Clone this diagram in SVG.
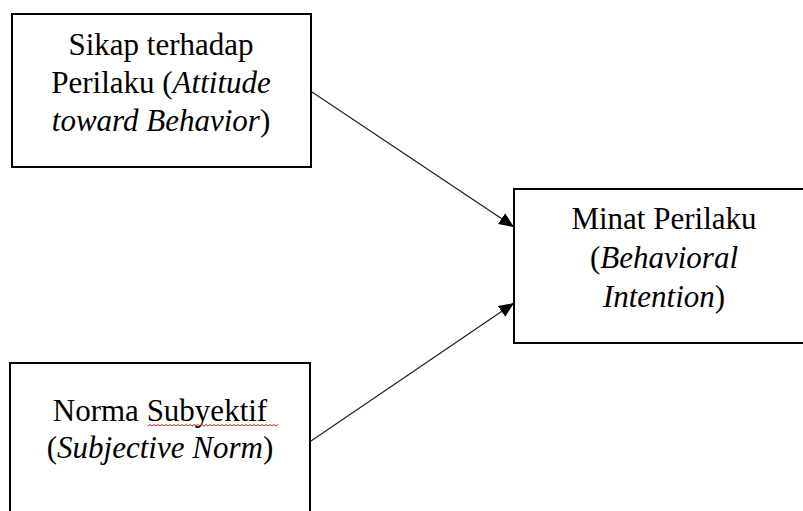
<svg xmlns="http://www.w3.org/2000/svg" width="803" height="511" viewBox="0 0 803 511">
  <style>
    .box { fill: #ffffff; stroke: #000000; stroke-width: 2; }
    .label { font-size: 31px; fill: #000000; text-anchor: middle; }
    .it { font-style: italic; }
    .edge { stroke: #222222; stroke-width: 1.2; fill: none; }
    .squiggle { stroke: #e02020; stroke-width: 1; fill: none; }
  </style>
  <defs>
    <marker id="arrow" markerUnits="userSpaceOnUse" markerWidth="16" markerHeight="14" refX="15" refY="6.5" orient="auto">
      <path d="M0,0 L15,6.5 L0,13 z" fill="#000000"/>
    </marker>
  </defs>
  <rect width="803" height="511" fill="#ffffff"/>

  <g font-family="Liberation Serif, DejaVu Serif, serif">
  <g id="attitude">
    <rect class="box" x="12" y="14" width="299" height="153"/>
    <text class="label" x="161" y="55">Sikap terhadap</text>
    <text class="label" x="161" y="93">Perilaku (<tspan class="it">Attitude</tspan></text>
    <text class="label" x="161" y="131"><tspan class="it">toward Behavior</tspan>)</text>
  </g>

  <g id="intention">
    <rect class="box" x="514" y="189" width="300" height="154"/>
    <text class="label" x="664" y="229">Minat Perilaku</text>
    <text class="label" x="664" y="268">(<tspan class="it">Behavioral</tspan></text>
    <text class="label" x="664" y="307"><tspan class="it">Intention</tspan>)</text>
  </g>

  <g id="norm">
    <rect class="box" x="10" y="363" width="300" height="170"/>
    <text class="label" x="160" y="421">Norma Subyektif</text>
    <path class="squiggle" d="M148,426 l2,-1.5 l2,1.5 l2,-1.5 l2,1.5 l2,-1.5 l2,1.5 l2,-1.5 l2,1.5 l2,-1.5 l2,1.5 l2,-1.5 l2,1.5 l2,-1.5 l2,1.5 l2,-1.5 l2,1.5 l2,-1.5 l2,1.5 l2,-1.5 l2,1.5 l2,-1.5 l2,1.5 l2,-1.5 l2,1.5 l2,-1.5 l2,1.5 l2,-1.5 l2,1.5 l2,-1.5 l2,1.5 l2,-1.5 l2,1.5 l2,-1.5 l2,1.5 l2,-1.5 l2,1.5 l2,-1.5 l2,1.5 l2,-1.5 l2,1.5 l2,-1.5 l2,1.5 l2,-1.5 l2,1.5 l2,-1.5 l2,1.5 l2,-1.5 l2,1.5 l2,-1.5 l2,1.5 l2,-1.5 l2,1.5 l2,-1.5 l2,1.5 l2,-1.5 l2,1.5 l2,-1.5 l2,1.5 l2,-1.5 l2,1.5 l2,-1.5 l2,1.5 l2,-1.5 l2,1.5 l2,-1.5"/>
    <text class="label" x="160" y="458">(<tspan class="it">Subjective Norm</tspan>)</text>
  </g>
  </g>

  <g id="connectors">
    <line class="edge" x1="312" y1="92" x2="514" y2="227" marker-end="url(#arrow)"/>
    <line class="edge" x1="311" y1="441" x2="514" y2="303" marker-end="url(#arrow)"/>
  </g>
</svg>
